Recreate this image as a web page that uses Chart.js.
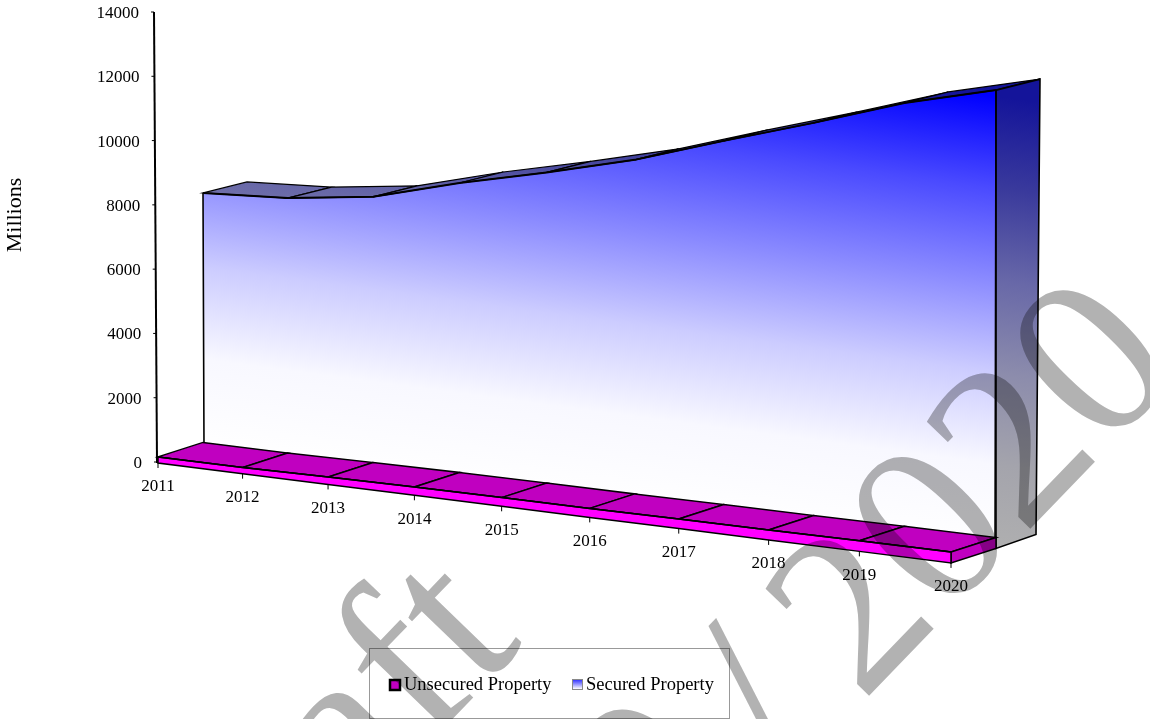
<!DOCTYPE html>
<html>
<head>
<meta charset="utf-8">
<title>Property</title>
<script src="https://cdn.jsdelivr.net/npm/chart.js@4/dist/chart.umd.min.js"></script>
<style>
    html, body { margin: 0; background: #fff; }
    canvas { display: block; }
</style>
</head>
<body>
<canvas id="myChart" width="1150" height="719"></canvas>
<script>
const years = ["2011", "2012", "2013", "2014", "2015", "2016", "2017", "2018", "2019", "2020"]
const securedProperty = [8370, 8210, 8250, 8680, 9010, 9400, 9990, 10550, 11170, 11570]
const unsecuredProperty = [190, 190, 230, 260, 270, 280, 300, 310, 330, 340]

const serif = "'Liberation Serif'"

//the 3d look: floor slope and depth of the two rows
const slope = 0.126
const floorDepth = { x: 45, y: -14.5 }
const wallTop = { x: 44, y: -11 }
const wallBase = { x: 41, y: -14 }

//x axis gets wider towards the front, like the perspective of the original
class PerspectiveScale extends Chart.CategoryScale {
    static id = 'perspective'
    static defaults = Chart.CategoryScale.defaults

    getPixelForDecimal(d) {
        return super.getPixelForDecimal(0.955 * d + 0.045 * d * d)
    }
}
Chart.register(PerspectiveScale)

const poly = function (ctx, pts, fill, stroke, width) {
    ctx.beginPath()
    pts.forEach((p, i) => i ? ctx.lineTo(p.x, p.y) : ctx.moveTo(p.x, p.y))
    ctx.closePath()
    if (fill) {
        ctx.fillStyle = fill
        ctx.fill()
    }
    if (stroke) {
        ctx.strokeStyle = stroke
        ctx.lineWidth = width || 1.5
        ctx.stroke()
    }
}

const shift = (p, d) => ({ x: p.x + d.x, y: p.y + d.y })

//the y axis leans a little
const axisX = (y, v) => 154 + 3 * (y.getPixelForValue(v) - y.top) / (y.bottom - y.top)

const plugin3d = {
    id: 'plugin3d',

    //the datasets only give the edges, the line has to follow the slope or the back row
    beforeDatasetDraw(chart, args) {
        const ctx = chart.ctx
        const x = chart.scales.x
        ctx.save()
        if (args.index === 0) {
            ctx.transform(1, slope, 0, 1, 0, 1 - slope * x.left)
        } else {
            ctx.translate(floorDepth.x, 0)
        }
    },
    afterDatasetDraw(chart) {
        chart.ctx.restore()
    },

    beforeDatasetsDraw(chart) {
        const ctx = chart.ctx
        const x = chart.scales.x
        const y = chart.scales.y
        const y0 = y.getPixelForValue(0)

        const px = years.map((_, i) => x.getPixelForValue(i))
        const floorY = px.map(v => y0 + 1 + slope * (v - x.left))
        const base = px.map((v, i) => ({ x: v, y: floorY[i] }))
        const front = px.map((v, i) => ({ x: v, y: floorY[i] - (y0 - y.getPixelForValue(unsecuredProperty[i])) }))
        const back = front.map(p => shift(p, floorDepth))
        const wall = px.map((v, i) => ({ x: v + floorDepth.x, y: y.getPixelForValue(securedProperty[i]) }))
        const wallBack = wall.map(p => shift(p, wallTop))
        const wallBottom = base.map(p => shift(p, floorDepth))
        const last = years.length - 1

        //gradient runs square to the floor, white at the floor, blue at the top corner
        const gradFrom = { x: wall[last].x - 60, y: wallBottom[last].y }
        const grad = function (stops) {
            const g = ctx.createLinearGradient(gradFrom.x, gradFrom.y, gradFrom.x + 60, gradFrom.y - 452)
            stops.forEach((c, i) => g.addColorStop(i / (stops.length - 1), c))
            return g
        }
        const wallFill = grad(['#ffffff', '#f8f8ff', '#ccccff', '#8a8aff', '#4a4aff', '#0000ff'])
        const darkFill = grad(['#b0b0b0', '#a4a4ac', '#8c8cac', '#6868a8', '#3a3a9c', '#14149a'])

        //secured: wall, top face, side
        poly(ctx, wall.concat([wallBottom[last], { x: wall[0].x + 1, y: wallBottom[0].y }]), wallFill)
        for (let i = 0; i < last; i++) {
            poly(ctx, [wall[i], wall[i + 1], wallBack[i + 1], wallBack[i]], darkFill, '#000', 1.2)
        }
        const side = [wall[last], wallBack[last], shift(base[last], { x: floorDepth.x + wallBase.x - 1, y: floorDepth.y + wallBase.y }), wallBottom[last]]
        poly(ctx, side, darkFill, '#000', 1.6)
        ctx.beginPath()
        ctx.moveTo(wall[0].x, wall[0].y)
        ctx.lineTo(wall[0].x + 1, wallBottom[0].y)
        ctx.moveTo(wall[last].x, wall[last].y)
        ctx.lineTo(wallBottom[last].x - 1, wallBottom[last].y)
        ctx.strokeStyle = '#000'
        ctx.lineWidth = 1.6
        ctx.stroke()

        //unsecured: floor top, end cap, front
        for (let i = 0; i < last; i++) {
            poly(ctx, [front[i], front[i + 1], back[i + 1], back[i]], '#c000c0', '#000', 1.5)
        }
        poly(ctx, [front[last], base[last], wallBottom[last], back[last]], '#c000c0', '#000', 1.5)
        poly(ctx, front.concat(base.slice().reverse()), '#ff00ff', '#000', 1.5)

        //axes, tilted with the picture
        ctx.strokeStyle = '#000'
        ctx.lineWidth = 2
        ctx.beginPath()
        ctx.moveTo(axisX(y, 14000), y.top)
        ctx.lineTo(axisX(y, 0), y0 + 1)
        ctx.stroke()
        ctx.lineWidth = 1
        ctx.beginPath()
        y.ticks.forEach(t => {
            const py = y.getPixelForValue(t.value)
            ctx.moveTo(axisX(y, t.value) - 3, py)
            ctx.lineTo(axisX(y, t.value), py)
        })
        base.forEach(p => {
            ctx.moveTo(p.x, p.y)
            ctx.lineTo(p.x, p.y + 5)
        })
        ctx.stroke()
    },

    afterDraw(chart) {
        const ctx = chart.ctx
        const x = chart.scales.x
        const y = chart.scales.y
        const y0 = y.getPixelForValue(0)

        //tick labels follow the leaning y axis and the sloping floor
        ctx.save()
        ctx.fillStyle = '#000'
        ctx.font = "17px " + serif
        ctx.textBaseline = 'middle'
        ctx.textAlign = 'right'
        y.ticks.forEach(t => {
            ctx.fillText(t.label, axisX(y, t.value) - 15, y.getPixelForValue(t.value) + 1.5)
        })
        ctx.textAlign = 'center'
        years.forEach((year, i) => {
            const px = x.getPixelForValue(i)
            ctx.fillText(year, px, y0 + 25 + slope * (px - x.left))
        })

        ctx.save()
        ctx.translate(15, 215)
        ctx.rotate(-Math.PI / 2)
        ctx.font = "22px " + serif
        ctx.fillText('Millions', 0, 0)
        ctx.restore()

        //legend box
        ctx.strokeStyle = '#999'
        ctx.lineWidth = 1
        ctx.strokeRect(369.5, 648.5, 360, 70)

        ctx.fillStyle = '#c000c0'
        ctx.fillRect(390, 680, 10, 10)
        ctx.strokeStyle = '#000'
        ctx.lineWidth = 2.5
        ctx.strokeRect(390, 680, 10, 10)

        const swatch = ctx.createLinearGradient(0, 679, 0, 689)
        swatch.addColorStop(0, '#2020ff')
        swatch.addColorStop(1, '#ffffff')
        ctx.fillStyle = swatch
        ctx.fillRect(572.5, 679.5, 10, 10)
        ctx.strokeStyle = '#888'
        ctx.lineWidth = 1
        ctx.strokeRect(572.5, 679.5, 10, 10)

        ctx.fillStyle = '#000'
        ctx.font = "18.5px " + serif
        ctx.textAlign = 'left'
        ctx.fillText(chart.data.datasets[0].label, 404, 685)
        ctx.fillText(chart.data.datasets[1].label, 586, 685)

        //watermark
        ctx.globalCompositeOperation = 'multiply'
        ctx.fillStyle = '#b2b2b2'
        ctx.font = "232px " + serif
        ctx.textBaseline = 'alphabetic'
        const angle = -46 * Math.PI / 180
        ctx.save()
        ctx.translate(862, 703)
        ctx.rotate(angle)
        ctx.textAlign = 'left'
        ctx.fillText('2020', 0, 0)
        ctx.textAlign = 'right'
        ctx.fillText('/', -40, -11)
        ctx.fillText('0', -144, -26)
        ctx.restore()
        ctx.save()
        ctx.translate(525, 644)
        ctx.rotate(angle)
        ctx.textAlign = 'right'
        ctx.fillText('Draft', 0, 0)
        ctx.restore()
        ctx.restore()
    }
}

new Chart(document.querySelector("#myChart"), {
    type: 'line',
    data: {
        labels: years,
        datasets: [{
            label: 'Unsecured Property',
            data: unsecuredProperty,
            borderColor: '#000',
            borderWidth: 1.5,
            pointRadius: 0,
            tension: 0,
            fill: false,
            clip: false
        }, {
            label: 'Secured Property',
            data: securedProperty,
            borderColor: '#000',
            borderWidth: 2,
            pointRadius: 0,
            tension: 0,
            fill: false,
            clip: false
        }]
    },
    options: {
        responsive: false,
        animation: false,
        layout: { padding: { top: 12, right: 199 } },
        plugins: { legend: { display: false }, tooltip: { enabled: false } },
        scales: {
            x: {
                type: 'perspective',
                offset: false,
                grid: { display: false },
                border: { display: false },
                ticks: { display: false },
                afterFit: s => { s.height = 257 }
            },
            y: {
                min: 0,
                max: 14000,
                grid: { display: false },
                border: { display: false },
                ticks: {
                    stepSize: 2000,
                    display: false,
                    callback: v => String(v)
                },
                afterFit: s => {
                    s.width = 158
                    s.paddingTop = 0
                    s.paddingBottom = 0
                }
            }
        }
    },
    plugins: [plugin3d]
})
</script>
</body>
</html>
